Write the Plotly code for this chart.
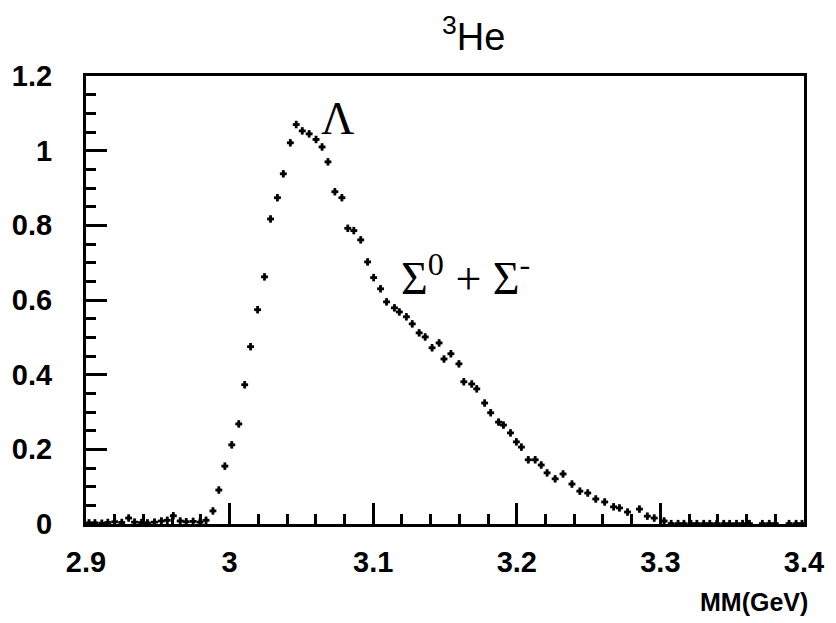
import plotly.graph_objects as go

# Missing-mass spectrum, 3He target
mm_gev = [
    2.9021, 2.9062, 2.9110, 2.9152, 2.9200, 2.9249, 2.9297, 2.9338, 2.9387, 2.9428,
    2.9477, 2.9525, 2.9566, 2.9608, 2.9656, 2.9698, 2.9746, 2.9794, 2.9836, 2.9884,
    2.9925, 2.9967, 3.0015, 3.0064, 3.0105, 3.0146, 3.0195, 3.0243, 3.0285, 3.0333,
    3.0374, 3.0423, 3.0464, 3.0506, 3.0554, 3.0602, 3.0644, 3.0685, 3.0733, 3.0782,
    3.0823, 3.0865, 3.0913, 3.0961, 3.1003, 3.1051, 3.1093, 3.1148, 3.1182, 3.1231,
    3.1272, 3.1320, 3.1362, 3.1410, 3.1459, 3.1493, 3.1541, 3.1597, 3.1631, 3.1686,
    3.1721, 3.1776, 3.1818, 3.1873, 3.1907, 3.1956, 3.1997, 3.2032, 3.2080, 3.2128,
    3.2170, 3.2211, 3.2267, 3.2322, 3.2384, 3.2439, 3.2494, 3.2550, 3.2612, 3.2674,
    3.2715, 3.2771, 3.2854, 3.2909, 3.2957, 3.3026, 3.3075, 3.3123, 3.3164, 3.3213,
    3.3254, 3.3302, 3.3344, 3.3392, 3.3441, 3.3482, 3.3530, 3.3572, 3.3620, 3.3710,
    3.3758, 3.3800, 3.3896, 3.3945, 3.3986,
]
yield_counts = [
    0.003, 0.003, 0.002, 0.004, 0.006, 0.004, 0.016, 0.005, 0.004, 0.003,
    0.005, 0.008, 0.010, 0.022, 0.008, 0.006, 0.007, 0.005, 0.010, 0.035,
    0.091, 0.155, 0.212, 0.268, 0.373, 0.475, 0.574, 0.662, 0.817, 0.874,
    0.938, 1.021, 1.070, 1.053, 1.045, 1.030, 1.010, 0.970, 0.890, 0.874,
    0.792, 0.786, 0.761, 0.702, 0.660, 0.630, 0.595, 0.579, 0.568, 0.555,
    0.536, 0.512, 0.501, 0.472, 0.485, 0.442, 0.456, 0.429, 0.381, 0.375,
    0.362, 0.324, 0.298, 0.273, 0.265, 0.244, 0.220, 0.206, 0.172, 0.172,
    0.158, 0.137, 0.121, 0.134, 0.107, 0.088, 0.083, 0.067, 0.059, 0.046,
    0.043, 0.032, 0.040, 0.021, 0.016, 0.008, 0.001, 0.001, 0.001, 0.001,
    0.001, 0.001, 0.001, 0.001, 0.001, 0.001, 0.001, 0.001, 0.001, 0.001,
    0.001, 0.001, 0.001, 0.001, 0.001,
]

x_ticks = [2.9, 3.0, 3.1, 3.2, 3.3, 3.4]
x_tick_text = ["2.9", "3", "3.1", "3.2", "3.3", "3.4"]
y_ticks = [0, 0.2, 0.4, 0.6, 0.8, 1.0, 1.2]
y_tick_text = ["0", "0.2", "0.4", "0.6", "0.8", "1", "1.2"]

sans = "Liberation Sans, Arial, sans-serif"
tick_font = dict(family=sans, size=29, color="black", weight="bold")

fig = go.Figure()
fig.add_trace(go.Scatter(
    x=mm_gev, y=yield_counts, mode="markers",
    marker=dict(size=3, color="black", symbol="square"),
    error_x=dict(type="constant", value=0.0024, width=0, thickness=2.8, color="black"),
    error_y=dict(type="constant", value=0.010, width=0, thickness=2.8, color="black"),
    showlegend=False, cliponaxis=True,
))

axis_common = dict(
    showgrid=False, zeroline=False, showline=True, linecolor="black",
    linewidth=3, mirror=True, ticks="inside", tickcolor="black",
    tickwidth=2.5, ticklen=21, tickfont=tick_font,
)
fig.update_xaxes(
    range=[2.9, 3.4], tickvals=x_ticks, ticktext=x_tick_text,
    minor=dict(dtick=0.02, tick0=2.9, ticks="inside", ticklen=10,
               tickwidth=2.5, tickcolor="black"),
    ticklabelstandoff=10, **axis_common,
)
fig.update_yaxes(
    range=[0, 1.2], tickvals=y_ticks, ticktext=y_tick_text,
    minor=dict(dtick=0.05, tick0=0, ticks="inside", ticklen=10,
               tickwidth=2.5, tickcolor="black"),
    ticklabelstandoff=25, **axis_common,
)

fig.add_annotation(x=0.54, y=1.0, xref="paper", yref="paper", yshift=68,
                   text="<sup>3</sup>He", showarrow=False,
                   font=dict(family=sans, size=38, color="black"))
fig.add_annotation(x=3.0754, y=1.085, text="Λ", showarrow=False,
                   font=dict(family="Liberation Serif", size=46, color="black"))
fig.add_annotation(x=3.164, y=0.668, text="Σ<sup>0</sup> + Σ<sup>-</sup>",
                   showarrow=False,
                   font=dict(family="Liberation Serif", size=46, color="black"))
fig.add_annotation(x=1.0, y=0, xref="paper", yref="paper", xanchor="right",
                   xshift=6, yshift=-94, text="MM(GeV)", showarrow=False,
                   font=dict(family=sans, size=25, color="black",
                             weight="bold"))

fig.update_layout(
    width=836, height=623,
    margin=dict(l=84, r=28, t=76, b=99),
    paper_bgcolor="white", plot_bgcolor="white",
)
fig.write_html("out.html")
